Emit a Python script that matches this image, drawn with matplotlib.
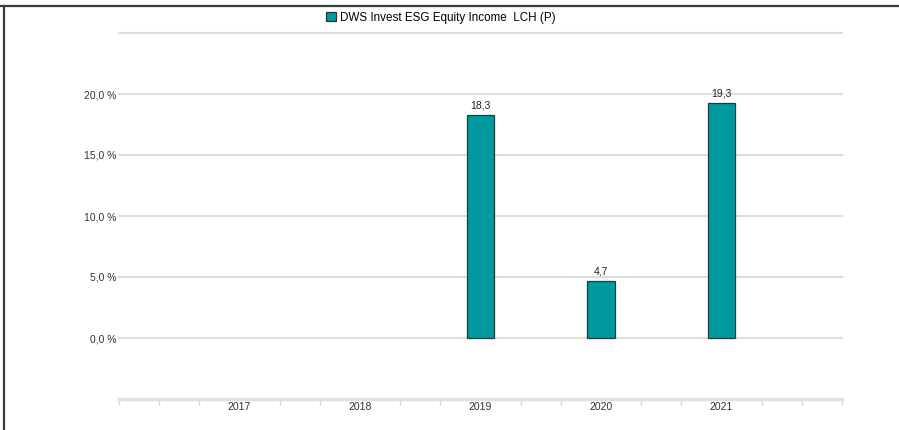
import numpy as np
import matplotlib
matplotlib.use("Agg")
import matplotlib.pyplot as plt
from matplotlib.patches import Patch
from matplotlib.lines import Line2D

plt.rcParams['font.family'] = ['Liberation Sans', 'DejaVu Sans']

# datos del gráfico
anios = ['2017', '2018', '2019', '2020', '2021']
rendimientos = [np.nan, np.nan, 18.3, 4.7, 19.3]
serie = 'DWS Invest ESG Equity Income  LCH (P)'
ticks_y = [0, 5, 10, 15, 20, 25]
etiquetas_y = ['0,0 %', '5,0 %', '10,0 %', '15,0 %', '20,0 %', '']

color_barra = '#009a9e'
color_borde = '#1f3a3a'
color_rejilla = '#e0ddd6'

fig = plt.figure(figsize=(8.99, 4.30), dpi=100)
ax = fig.add_axes([119 / 899, 1 - 399 / 430, (842 - 119) / 899, (399 - 33) / 430])

pos = np.arange(len(anios))
barras = ax.bar(pos, rendimientos, width=0.23, color=color_barra,
                edgecolor=color_borde, linewidth=0.9, zorder=3)

for x, v in zip(pos, rendimientos):
    if np.isnan(v):
        continue
    ax.annotate(f'{v:.1f}'.replace('.', ','), (x, v), xytext=(0, 3),
                textcoords='offset points', ha='center', va='bottom',
                fontsize=7.5, color='#222222')

ax.set_xlim(-1, len(anios))
ax.set_ylim(-5, 25)

ax.set_yticks(ticks_y)
ax.set_yticklabels(etiquetas_y)
ax.tick_params(axis='y', length=0, pad=2, labelsize=7.5, labelcolor='#333333')
# líneas de la rejilla (sin recortar la de arriba)
for t in ticks_y:
    ax.axhline(t, color=color_rejilla, linewidth=1.5, zorder=0, clip_on=False)

ax.set_xticks(pos)
ax.set_xticklabels(anios)
ax.tick_params(axis='x', which='major', length=0, pad=2.5, labelsize=7.5,
               labelcolor='#333333')
menores = [-1, len(anios)]
for j in range(-1, len(anios)):
    menores += [j + 1 / 3, j + 2 / 3]
ax.set_xticks(sorted(menores), minor=True)
ax.tick_params(axis='x', which='minor', length=4, width=1, color='#dad7d0',
               direction='out')

for lado in ['top', 'right', 'left']:
    ax.spines[lado].set_visible(False)
ax.spines['bottom'].set_color('#e3e1da')
ax.spines['bottom'].set_linewidth(2.5)

fig.legend(handles=[Patch(facecolor=color_barra, edgecolor=color_borde, linewidth=0.9)],
           labels=[serie], loc='center', bbox_to_anchor=(441 / 899, 1 - 18 / 430),
           frameon=False, fontsize=8.4, handlelength=0.8, handleheight=0.8,
           handletextpad=0.4, borderpad=0)

# marco del cuadro (solo arriba e izquierda)
fig.add_artist(Line2D([0, 1], [1 - 6 / 430, 1 - 6 / 430], color='#3c3c3c', linewidth=1.6))
fig.add_artist(Line2D([4 / 899, 4 / 899], [0, 1 - 6 / 430], color='#3c3c3c', linewidth=1.6))

fig.savefig('out.png', dpi=100)
